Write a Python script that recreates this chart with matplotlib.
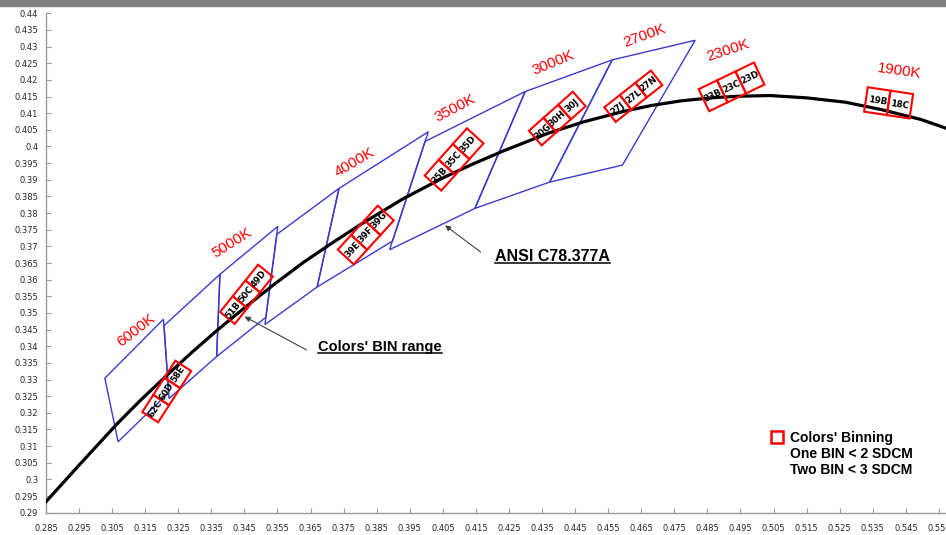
import numpy as np
import matplotlib
matplotlib.use('Agg')
import matplotlib.pyplot as plt
from matplotlib.patches import Polygon, Rectangle
from matplotlib.lines import Line2D
from matplotlib.transforms import IdentityTransform

# black-body locus (CIE 1931 x, y)
locus_x = [0.2850, 0.2952, 0.3064, 0.3135, 0.3221, 0.3287, 0.3370, 0.3451, 0.3540, 0.3630,
           0.3718, 0.3805, 0.3930, 0.4053, 0.4140, 0.4234, 0.4369, 0.4476, 0.4599, 0.4680,
           0.4770, 0.4860, 0.4945, 0.5040, 0.5150, 0.5267, 0.5375, 0.5496, 0.5600]
locus_y = [0.2933, 0.3045, 0.3166, 0.3237, 0.3318, 0.3378, 0.3450, 0.3516, 0.3586, 0.3653,
           0.3712, 0.3768, 0.3843, 0.3907, 0.3947, 0.3987, 0.4040, 0.4074, 0.4106, 0.4123,
           0.4137, 0.4146, 0.4151, 0.4153, 0.4146, 0.4133, 0.4111, 0.4081, 0.4045]

# ANSI C78.377 quadrangles (4 corners each)
quad_x = [[0.3028, 0.3205, 0.3221, 0.3068],
          [0.3207, 0.3376, 0.3366, 0.3222],
          [0.3376, 0.3551, 0.3515, 0.3366],
          [0.3548, 0.3736, 0.3670, 0.3512],
          [0.3736, 0.4006, 0.3898, 0.3670],
          [0.3996, 0.4299, 0.4147, 0.3889],
          [0.4299, 0.4562, 0.4373, 0.4147],
          [0.4562, 0.4813, 0.4593, 0.4373]]
quad_y = [[0.3304, 0.3481, 0.3261, 0.3113],
          [0.3462, 0.3616, 0.3369, 0.3243],
          [0.3616, 0.3760, 0.3487, 0.3369],
          [0.3736, 0.3874, 0.3578, 0.3465],
          [0.3874, 0.4044, 0.3716, 0.3578],
          [0.4015, 0.4165, 0.3814, 0.3690],
          [0.4165, 0.4260, 0.3893, 0.3814],
          [0.4260, 0.4319, 0.3944, 0.3893]]

# CCT captions
cct_labels = ['6000K', '5000K', '4000K', '3500K', '3000K', '2700K', '2300K', '1900K']
cct_x = [0.3122, 0.3411, 0.3784, 0.4088, 0.4383, 0.4660, 0.4913, 0.5430]
cct_y = [0.3449, 0.3709, 0.3953, 0.4116, 0.4251, 0.4333, 0.4288, 0.4226]

# colour bins: group centre, orientation and bin names
bin_names = [['62C', '60D', '58E'], ['51B', '50C', '49D'], ['39E', '39F', '39G'],
             ['35B', '35C', '35D'], ['30G', '30H', '30J'], ['27J', '27L', '27N'],
             ['23B', '23C', '23D'], ['19B', '18C']]
bin_cx = [0.3215, 0.3456, 0.3817, 0.4084, 0.4396, 0.4626, 0.4923, 0.5398]
bin_cy = [0.3264, 0.3556, 0.3734, 0.3961, 0.4084, 0.4151, 0.4179, 0.4131]
bin_angle = [57, 51, 47.5, 48, 41.5, 38, 25.6, -8.5]

legend_lines = ["Colors' Binning", "One BIN < 2 SDCM", "Two BIN < 3 SDCM"]

# styles
cct_rot = [38, 32, 30.5, 27.6, 22.6, 20, 18, -8]
bin_size_px = [(20.3, 18.9), (20.2, 18.9), (19.8, 21.7), (21.1, 22.4),
               (19.6, 19.3), (19.8, 18.5), (20.5, 24.3), (23.0, 24.6)]
PX = 1 / 3317.0
BLUE = '#3a3acb'
GREY = '#9a9a9a'

fig = plt.figure(figsize=(9.46, 5.35), dpi=100)
ax = fig.add_axes([46 / 946, 22.3 / 535, 900 / 946, 499.4 / 535])
ax.set_xlim(0.285, 0.285 + 900 / 3307)
ax.set_ylim(0.29, 0.44)

for qx, qy in zip(quad_x, quad_y):
    ax.add_patch(Polygon(np.column_stack([qx, qy]), closed=True, fill=False,
                         edgecolor=BLUE, lw=1.0, zorder=2))

ax.plot(locus_x, locus_y, color='black', lw=2.3, zorder=3, solid_joinstyle='round')

for names, cx, cy, ang, (a_px, b_px) in zip(bin_names, bin_cx, bin_cy, bin_angle, bin_size_px):
    t = np.radians(ang)
    u = np.array([np.cos(t), np.sin(t)])
    v = np.array([-np.sin(t), np.cos(t)])
    a, b = a_px * PX, b_px * PX
    n = len(names)
    for i, nm in enumerate(names):
        c = np.array([cx, cy]) + (i - (n - 1) / 2) * a * u
        pts = [c - a / 2 * u - b / 2 * v, c + a / 2 * u - b / 2 * v,
               c + a / 2 * u + b / 2 * v, c - a / 2 * u + b / 2 * v]
        ax.add_patch(Polygon(pts, closed=True, fill=False, edgecolor='red', lw=1.5, zorder=4))
        ax.text(c[0], c[1], nm, rotation=ang, rotation_mode='anchor', ha='center', va='center',
                fontsize=6.3, fontweight='bold', color='black', zorder=5)

for lab, x, y, r in zip(cct_labels, cct_x, cct_y, cct_rot):
    ax.text(x, y, lab, color='red', fontsize=11, family='Liberation Sans', rotation=r,
            rotation_mode='anchor', ha='center', va='center')

# annotations
ax.annotate('', xy=(0.3443, 0.3493), xytext=(0.3645, 0.3385),
            arrowprops=dict(arrowstyle='-|>', color='#404040', lw=0.8, mutation_scale=8))
ax.annotate('', xy=(0.4050, 0.3768), xytext=(0.4171, 0.3678),
            arrowprops=dict(arrowstyle='-|>', color='#404040', lw=0.8, mutation_scale=8))
t1 = ax.text(0.3673, 0.3386, "Colors' BIN range", family='Liberation Sans', fontweight='bold',
             fontsize=10.5, va='baseline', ha='left')
t2 = ax.text(0.4208, 0.3657, "ANSI C78.377A", family='Liberation Sans', fontweight='bold',
             fontsize=11.5, va='baseline', ha='left')

h1 = Line2D([], [], marker='s', ls='none', mfc='white', mec='red', mew=1.8, ms=9)
h2 = Line2D([], [], ls='none')
ax.legend([h1, h2, h2], legend_lines, loc='upper left', bbox_to_anchor=(0.805, 0.164),
          frameon=False, prop={'family': 'Liberation Sans', 'weight': 'bold', 'size': 10},
          handlelength=1.0, handletextpad=0.4, labelspacing=0.16, borderpad=0, borderaxespad=0)

# axes styling
xticks = np.round(np.arange(0.285, 0.5551, 0.01), 3)
yticks = np.round(np.arange(0.29, 0.4401, 0.005), 3)
ax.set_xticks(xticks)
ax.set_xticklabels([f'{v:g}' for v in xticks])
ax.set_yticks(yticks)
ax.set_yticklabels([f'{v:g}' for v in yticks])
ax.tick_params(direction='in', length=3.5, width=0.8, color=GREY, labelsize=6,
               labelcolor='#262626')
ax.tick_params(axis='x', pad=8)
ax.tick_params(axis='y', pad=5.5)
for s in ['top', 'right']:
    ax.spines[s].set_visible(False)
for s in ['left', 'bottom']:
    ax.spines[s].set_color(GREY)
    ax.spines[s].set_linewidth(1.0)

fig.patches.append(Rectangle((0, 1 - 6 / 535), 1, 6 / 535, transform=fig.transFigure,
                             color='#7f7f7f', zorder=0))

# underline the two callouts
fig.canvas.draw()
for t in (t1, t2):
    bb = t.get_window_extent()
    base = ax.transData.transform(t.get_position())[1]
    fig.add_artist(Line2D([bb.x0, bb.x1], [base - 2.5, base - 2.5], color='black', lw=1.1,
                          transform=IdentityTransform()))

fig.savefig('out.png', dpi=100)
